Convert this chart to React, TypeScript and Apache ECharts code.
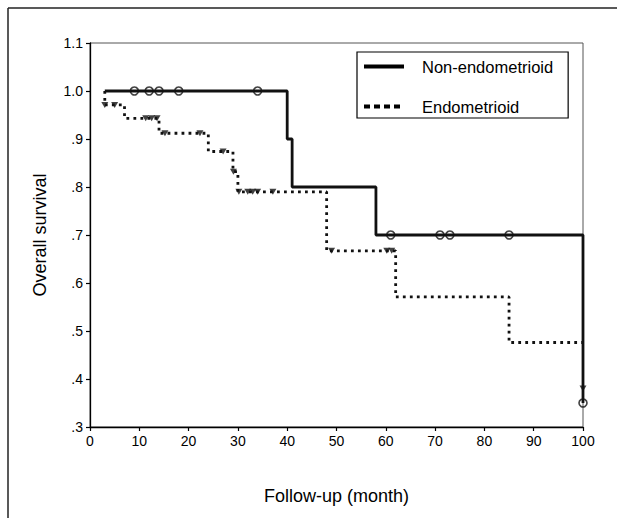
import React, { useEffect, useRef } from "react";
import * as echarts from "echarts";

const xTicksMin = 0;
const xTicksMax = 100;
const yTicksMin = 0.3;
const yTicksMax = 1.1;

const nonEndoTimes = [3, 40, 41, 58, 100];
const nonEndoSurv = [1.0, 0.9, 0.8, 0.7, 0.35];

const endoTimes = [3, 3, 7, 14, 24, 29, 30, 48, 62, 85, 100];
const endoSurv = [1.0, 0.971, 0.943, 0.912, 0.874, 0.832, 0.79, 0.667, 0.571, 0.476, 0.476];

const nonEndoCensorT = [9, 12, 14, 18, 34, 61, 71, 73, 85, 100];
const nonEndoCensorS = [1.0, 1.0, 1.0, 1.0, 1.0, 0.7, 0.7, 0.7, 0.7, 0.35];

const endoCensorT = [3, 5, 11.3, 12.5, 13.6, 15.2, 22.3, 27, 29.1, 30.2, 32, 33, 34, 37.1, 49, 60.2, 61.2, 100];
const endoCensorS = [0.971, 0.971, 0.943, 0.943, 0.943, 0.912, 0.912, 0.874, 0.832, 0.79, 0.79, 0.79, 0.79, 0.79, 0.667, 0.667, 0.667, 0.38];

const seriesNames = ["Non-endometrioid", "Endometrioid"];

const zip = (a: number[], b: number[]) => a.map((v, i) => [v, b[i]]);

export default function App() {
  const ref = useRef<HTMLDivElement>(null);
  useEffect(() => {
    if (!ref.current) return;
    const chart = echarts.init(ref.current, null, { renderer: "svg" });
    const font = "Liberation Sans, Arial, sans-serif";
    const hiddenSymbol = { opacity: 0, color: "rgba(0,0,0,0)", borderWidth: 0 };
    chart.setOption({
      animation: false,
      backgroundColor: "#fff",
      grid: {
        left: 90,
        right: 34,
        top: 43,
        bottom: 91,
        show: true,
        borderColor: "#555",
        borderWidth: 1,
      },
      graphic: [
        { type: "line", shape: { x1: 8, y1: 8, x2: 617, y2: 8 }, style: { stroke: "#222", lineWidth: 1.5 } },
        { type: "line", shape: { x1: 8, y1: 8, x2: 8, y2: 518 }, style: { stroke: "#222", lineWidth: 1.5 } },
      ],
      legend: {
        orient: "vertical",
        left: 357,
        top: 52,
        itemWidth: 40,
        itemHeight: 18,
        itemGap: 23,
        padding: [6, 15, 3, 5],
        borderColor: "#000",
        borderWidth: 1.2,
        selectedMode: false,
        textStyle: { fontSize: 16.5, color: "#000", fontFamily: font, padding: [0, 0, 0, 13] },
        data: [
          { name: seriesNames[0], itemStyle: hiddenSymbol, lineStyle: { width: 4, type: "solid", color: "#000" } },
          { name: seriesNames[1], itemStyle: hiddenSymbol, lineStyle: { width: 4, type: [6, 4], color: "#000" } },
        ],
      },
      xAxis: {
        type: "value",
        min: xTicksMin,
        max: xTicksMax,
        interval: 10,
        name: "Follow-up (month)",
        nameLocation: "middle",
        nameGap: 60,
        nameTextStyle: { fontSize: 18, color: "#000", fontFamily: font },
        axisLine: { show: true, lineStyle: { color: "#000", width: 1.3 } },
        axisTick: { show: true, length: 4, lineStyle: { color: "#000", width: 1.2 } },
        axisLabel: { fontSize: 14, color: "#000", fontFamily: font, margin: 7 },
        splitLine: { show: false },
      },
      yAxis: {
        type: "value",
        min: yTicksMin,
        max: yTicksMax,
        interval: 0.1,
        name: "Overall survival",
        nameLocation: "middle",
        nameGap: 41,
        nameTextStyle: { fontSize: 18, color: "#000", fontFamily: font },
        axisLine: { show: true, lineStyle: { color: "#000", width: 1.3 } },
        axisTick: { show: true, length: 4, lineStyle: { color: "#000", width: 1.2 } },
        axisLabel: {
          fontSize: 14,
          color: "#000",
          fontFamily: font,
          margin: 7,
          formatter: (v: number) => {
            const s = v.toFixed(1);
            return v < 0.999 ? s.substring(1) : s;
          },
        },
        splitLine: { show: false },
      },
      series: [
        {
          name: seriesNames[0],
          type: "line",
          step: "end",
          symbol: "none",
          data: zip(nonEndoTimes, nonEndoSurv),
          lineStyle: { color: "#111", width: 2.8 },
          itemStyle: { color: "#111" },
          z: 3,
        },
        {
          name: seriesNames[1],
          type: "line",
          step: "end",
          symbol: "none",
          data: zip(endoTimes, endoSurv),
          lineStyle: { color: "#111", width: 2.8, type: [2.8, 4.2] },
          itemStyle: { color: "#111" },
          z: 2,
        },
        {
          name: "Non-endometrioid censored",
          type: "scatter",
          symbol: "circle",
          symbolSize: 8,
          data: zip(nonEndoCensorT, nonEndoCensorS),
          itemStyle: { color: "rgba(0,0,0,0)", borderColor: "#111", borderWidth: 1.6 },
          z: 4,
        },
        {
          name: "Endometrioid censored",
          type: "scatter",
          symbol: "triangle",
          symbolRotate: 180,
          symbolSize: [7, 6],
          data: zip(endoCensorT, endoCensorS),
          itemStyle: { color: "#111" },
          z: 4,
        },
      ],
    });
    return () => chart.dispose();
  }, []);
  return (
    <div
      ref={ref}
      style={{ position: "absolute", left: 0, top: 0, width: 617, height: 518 }}
    />
  );
}
